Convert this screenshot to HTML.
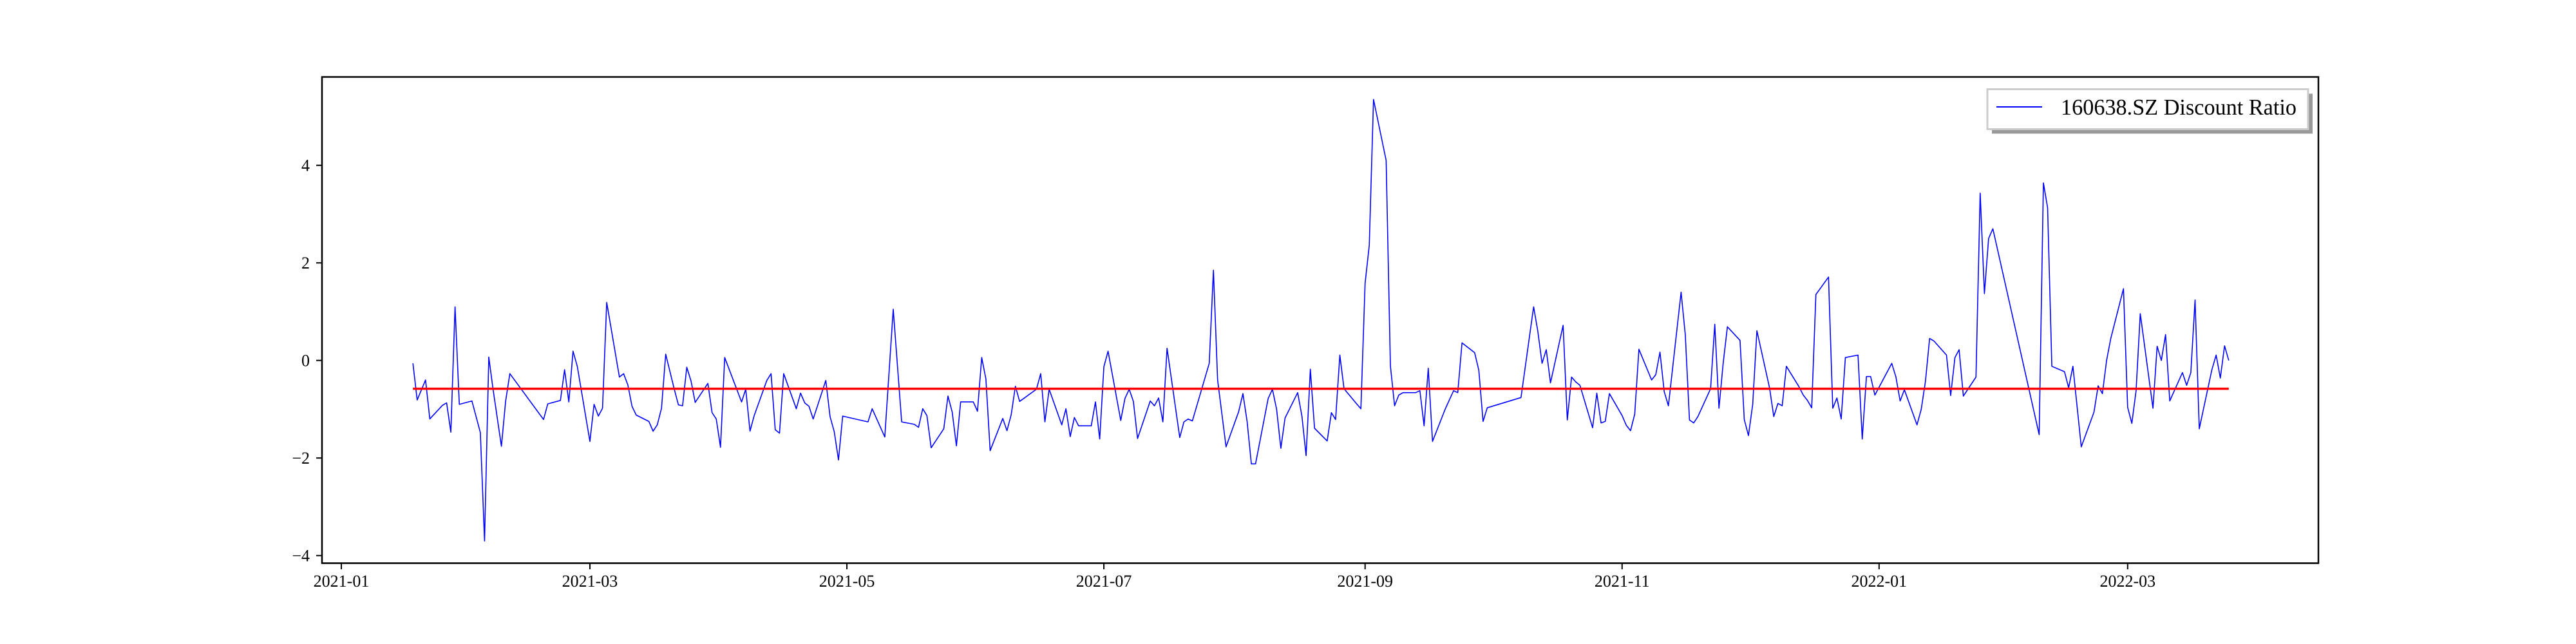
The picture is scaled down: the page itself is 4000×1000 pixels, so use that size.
<!DOCTYPE html>
<html><head><meta charset="utf-8"><title>160638.SZ Discount Ratio</title>
<style>html,body{margin:0;padding:0;background:#fff}svg{display:block}</style></head>
<body>
<svg id="chart" xmlns="http://www.w3.org/2000/svg" width="4000" height="1000" viewBox="0 0 4000 1000" font-family="'Liberation Serif', serif">
<rect x="0" y="0" width="4000" height="1000" fill="#fff"/>
<g id="plot"></g>
<g id="xaxis"></g>
<g id="yaxis"></g>
<rect x="500" y="119.5" width="3100" height="755" fill="none" stroke="#000" stroke-width="2.5"/>
<g>
<rect x="3093" y="145.5" width="498" height="62" fill="#999"/>
<rect x="3086" y="138.5" width="498" height="62" fill="#fff" stroke="#ccc" stroke-width="3"/>
<line x1="3100" y1="166" x2="3171" y2="166" stroke="#0000ff" stroke-width="2"/>
<text x="3200" y="178" font-size="35" textLength="366" lengthAdjust="spacingAndGlyphs" fill="#000">160638.SZ Discount Ratio</text>
</g>
</svg>
<script>
// days since 2021-01-01
const days = [17,18,20,21,24,25,26,27,28,31,33,34,35,36,38,39,40,48,49,52,53,54,55,56,59,60,61,62,63,66,67,68,69,70,73,74,75,76,77,
79,80,81,82,83,84,87,88,89,90,91,95,96,97,98,101,102,103,104,105,108,109,110,111,112,115,116,117,118,119,125,126,129,131,133,136,137,138,
139,140,143,144,145,146,147,150,151,152,153,154,157,158,159,160,161,165,166,167,168,171,172,173,174,175,178,179,180,181,182,185,186,187,188,189,192,193,194,195,196,199,200,
201,202,206,207,208,210,213,214,215,216,217,220,221,222,223,224,227,228,229,230,231,234,235,236,237,238,241,242,243,244,245,248,249,250,251,252,255,256,257,258,259,
262,264,265,266,269,270,271,272,280,283,284,285,286,287,290,291,292,293,294,297,298,299,300,301,304,305,306,307,308,311,312,313,314,315,318,319,320,321,322,
325,326,327,328,329,332,333,334,335,336,339,340,341,342,343,346,347,348,349,350,353,354,355,356,357,360,361,362,363,364,368,369,370,371,374,375,376,377,378,381,382,383,
384,385,388,389,390,391,392,403,404,405,406,409,410,411,413,416,417,418,419,420,423,424,425,426,427,430,431,432,433,434,437,438,439,440,441,444,445,446,447,448];
const ratios = [-0.06,-0.81,-0.40,-1.20,-0.92,-0.87,-1.47,1.10,-0.90,-0.83,-1.48,-3.70,0.07,-0.58,-1.76,-0.84,-0.27,-1.21,-0.89,-0.82,-0.19,-0.85,0.19,-0.12,-1.66,-0.90,-1.14,-0.98,1.19,-0.34,-0.27,-0.50,-0.94,-1.12,-1.25,-1.45,-1.32,-0.98,0.13,
-0.58,-0.91,-0.93,-0.14,-0.42,-0.86,-0.47,-1.07,-1.20,-1.78,0.06,-0.85,-0.59,-1.45,-1.13,-0.41,-0.27,-1.42,-1.49,-0.27,-0.99,-0.67,-0.87,-0.94,-1.20,-0.41,-1.15,-1.46,-2.04,-1.14,-1.26,-0.99,-1.57,1.05,-1.26,-1.31,-1.37,-0.99,
-1.13,-1.79,-1.40,-0.73,-1.06,-1.75,-0.85,-0.85,-1.04,0.06,-0.38,-1.85,-1.19,-1.44,-1.11,-0.53,-0.84,-0.59,-0.27,-1.26,-0.59,-1.32,-0.99,-1.56,-1.17,-1.34,-1.34,-0.85,-1.61,-0.13,0.19,-1.23,-0.78,-0.59,-0.84,-1.60,-0.83,-0.93,-0.77,-1.26,0.25,-1.58,-1.26,
-1.20,-1.24,-0.06,1.85,-0.40,-1.77,-1.05,-0.68,-1.25,-2.12,-2.12,-0.78,-0.59,-1.00,-1.80,-1.18,-0.66,-1.14,-1.95,-0.18,-1.39,-1.65,-1.07,-1.21,0.11,-0.58,-0.89,-0.99,1.58,2.36,5.35,4.10,-0.11,-0.93,-0.71,-0.66,-0.66,-0.62,-1.34,-0.16,-1.66,
-1.00,-0.62,-0.66,0.36,0.16,-0.20,-1.25,-0.97,-0.76,1.10,0.60,-0.06,0.22,-0.46,0.72,-1.22,-0.34,-0.44,-0.51,-1.38,-0.67,-1.28,-1.25,-0.68,-1.13,-1.33,-1.44,-1.10,0.23,-0.40,-0.29,0.17,-0.64,-0.93,1.40,0.53,-1.22,-1.28,-1.15,
-0.58,0.74,-0.98,-0.05,0.69,0.41,-1.21,-1.54,-0.90,0.61,-0.56,-1.15,-0.88,-0.93,-0.12,-0.54,-0.71,-0.82,-0.97,1.35,1.71,-0.98,-0.77,-1.20,0.06,0.11,-1.61,-0.33,-0.33,-0.71,-0.06,-0.34,-0.83,-0.60,-1.32,-1.00,-0.43,0.45,0.40,0.11,-0.72,0.06,
0.22,-0.73,-0.34,3.43,1.37,2.50,2.70,-1.52,3.64,3.13,-0.12,-0.23,-0.56,-0.12,-1.77,-1.06,-0.52,-0.68,0.00,0.45,1.47,-0.96,-1.29,-0.62,0.96,-0.98,0.29,0.00,0.53,-0.83,-0.25,-0.51,-0.25,1.24,-1.40,-0.19,0.11,-0.36,0.30,0.00];
const meanValue = -0.58;
const yTicks = [-4,-2,0,2,4];
const xTickDays = [0,59,120,181,243,304,365,424];
const xTickLabels = ["2021-01","2021-03","2021-05","2021-07","2021-09","2021-11","2022-01","2022-03"];

const NS = "http://www.w3.org/2000/svg";
function xScale(d){ return 530 + d * 6.542; }
function yScale(v){ return 559.7 - v * 75.75; }
function mk(tag, attrs, parent){ const e=document.createElementNS(NS,tag); for(const k in attrs) e.setAttribute(k,attrs[k]); parent.appendChild(e); return e; }

const plot=document.getElementById('plot');
let d='';
for(let i=0;i<days.length;i++){ d += (i?'L':'M') + xScale(days[i]).toFixed(1) + ',' + yScale(ratios[i]).toFixed(1); }
const line=mk('path',{d:d,fill:'none',stroke:'#0000ff','stroke-width':'1.6','stroke-linejoin':'round'},plot);


const mean=mk('line',{x1:xScale(days[0]),x2:xScale(days[days.length-1]),y1:yScale(meanValue),y2:yScale(meanValue),stroke:'#ff0000','stroke-width':'3.6'},plot);



const ya=document.getElementById('yaxis');
yTicks.forEach(v=>{
  const y=yScale(v);
  const t=mk('line',{x1:491,x2:500,y1:y,y2:y,stroke:'#000','stroke-width':'2'},ya);
  
  
  const lb=mk('text',{x:481,y:y+9,'font-size':'26','text-anchor':'end',fill:'#000'},ya);
  lb.textContent = v<0 ? '\u2212'+Math.abs(v) : String(v);
  
  
});
const xa=document.getElementById('xaxis');
xTickDays.forEach((dd,i)=>{
  const x=xScale(dd);
  const t=mk('line',{x1:x,x2:x,y1:875,y2:884,stroke:'#000','stroke-width':'2'},xa);
  
  
  const lb=mk('text',{x:x,y:911,'font-size':'26','text-anchor':'middle',fill:'#000'},xa);
  lb.textContent = xTickLabels[i];
  
  
});
</script>
</body></html>
